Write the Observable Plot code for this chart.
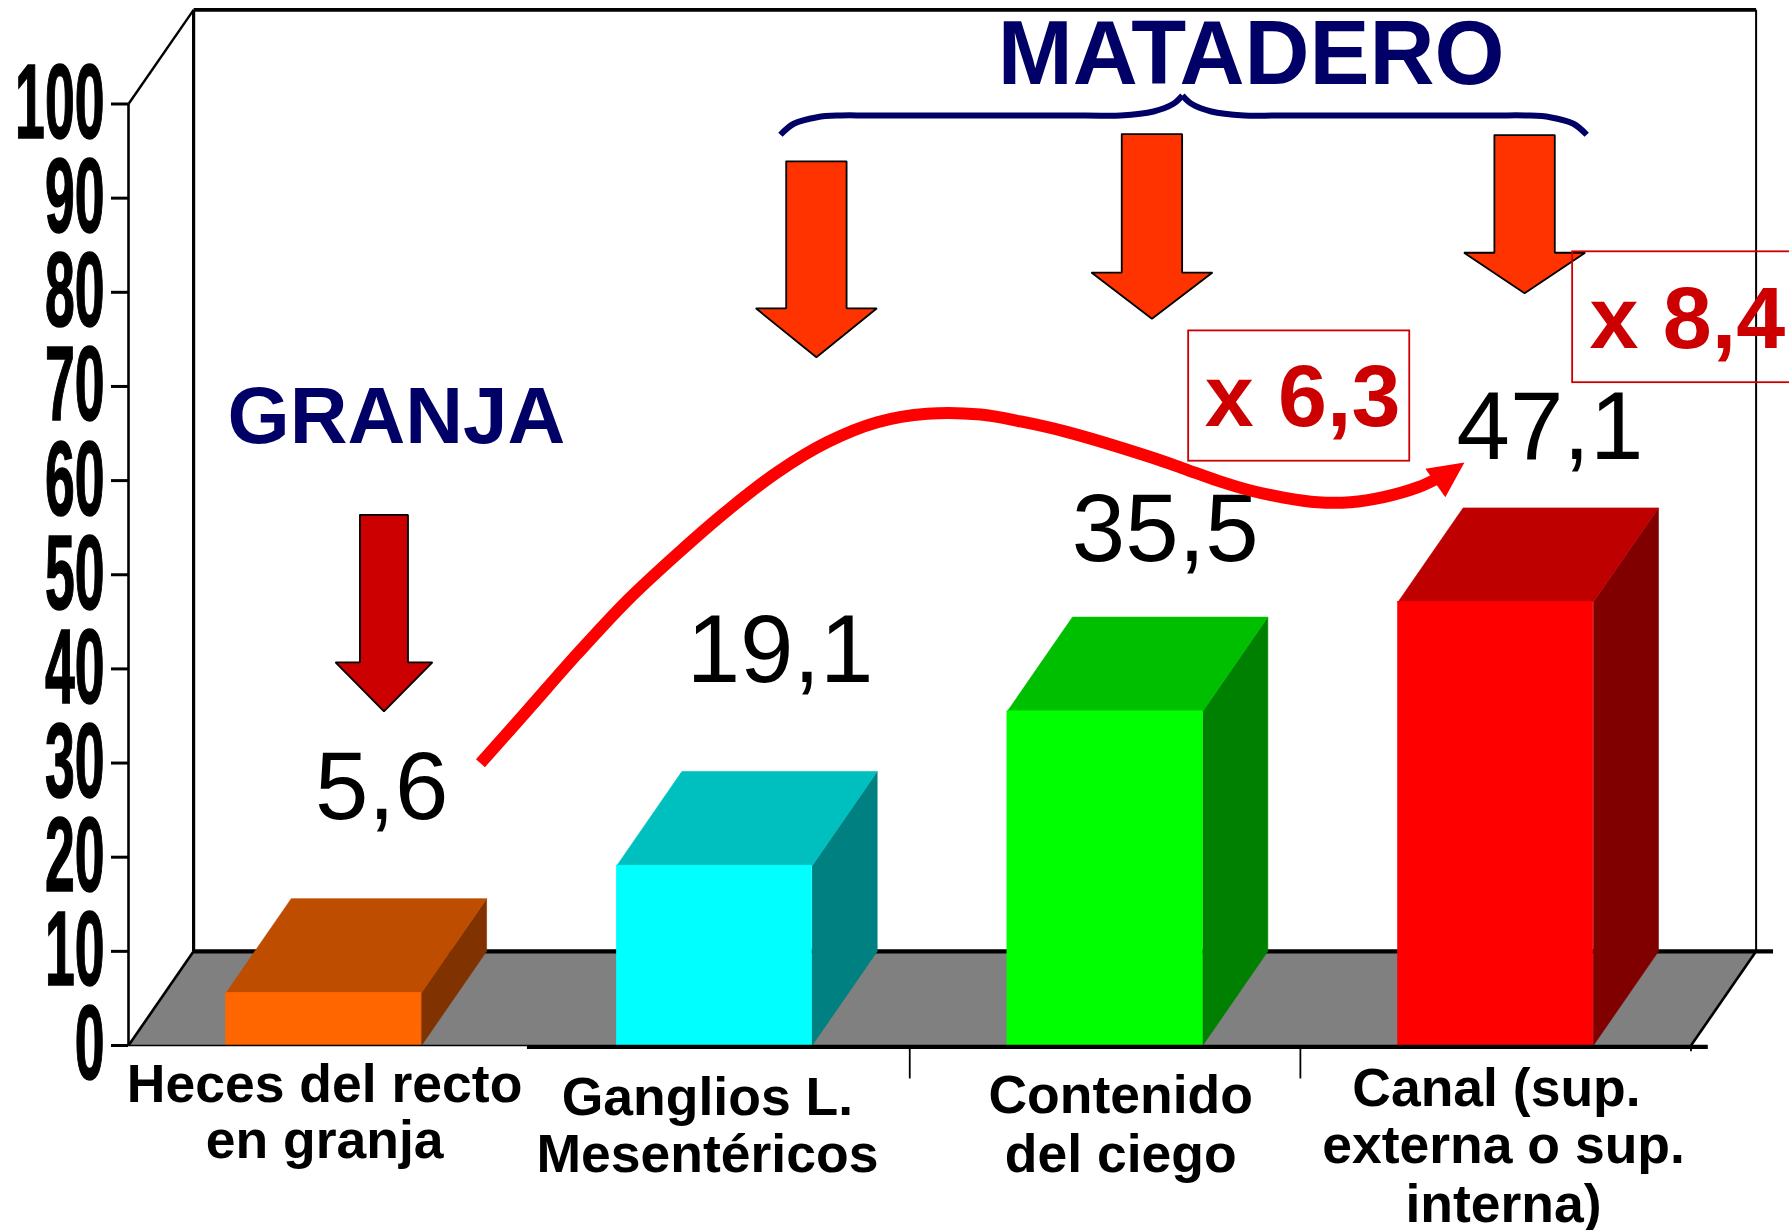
<!DOCTYPE html>
<html lang="es">
<head>
<meta charset="utf-8">
<title>Granja y matadero</title>
<style>
html,body{margin:0;padding:0;background:#fff}
svg{display:block}
</style>
<script src="https://cdn.jsdelivr.net/npm/d3@7"></script>
<script src="https://cdn.jsdelivr.net/npm/@observablehq/plot@0.6"></script>
</head>
<body>
<div id="chart"></div>
<script>
// --- data ---
const categories = [
  ["Heces del recto", "en granja"],
  ["Ganglios L.", "Mesentéricos"],
  ["Contenido", "del ciego"],
  ["Canal (sup.", "externa o sup.", "interna)"]
];
const values = [5.6, 19.1, 35.5, 47.1];
const frontColors = ["#FF6600", "#00FFFF", "#00FF00", "#FF0000"];
const topColors = ["#BF4D00", "#00BFBF", "#00BF00", "#BF0000"];
const sideColors = ["#803300", "#008080", "#008000", "#800000"];
const yTicks = [0, 10, 20, 30, 40, 50, 60, 70, 80, 90, 100];
const multipliers = ["x 6,3", "x 8,4"];

// --- oblique projection of the box, in data units ---
const depthX = 1 / 6, depthY = 10;
const wallTop = 110, xEnd = 4;
const font = "'Liberation Sans', Arial, sans-serif";
const NAVY = "#000066", DARKRED = "#CC0000", ORANGE = "#FF3300";

const poly = (pts, o = {}) => Plot.line(pts, {x: d => d[0], y: d => d[1], stroke: "none", ...o});
const seg = (pts, strokeWidth, o = {}) => poly(pts, {stroke: "#000", strokeWidth, strokeLinecap: "butt", ...o});

const bars = values.map((v, i) => ({v, i, x1: i + 0.25, x2: i + 0.75}));

const barMarks = bars.flatMap(b => [
  poly([[b.x2, 0], [b.x2 + depthX, depthY], [b.x2 + depthX, b.v + depthY], [b.x2, b.v], [b.x2, 0]],
    {fill: sideColors[b.i], stroke: sideColors[b.i], strokeWidth: 0.6}),
  poly([[b.x1, b.v], [b.x1 + depthX, b.v + depthY], [b.x2 + depthX, b.v + depthY], [b.x2, b.v], [b.x1, b.v]],
    {fill: topColors[b.i], stroke: topColors[b.i], strokeWidth: 0.6})
]);

const downArrow = (cx, top, head, tip, half, headHalf, fill) => poly([
  [cx - half, top], [cx + half, top], [cx + half, head], [cx + headHalf, head], [cx, tip],
  [cx - headHalf, head], [cx - half, head], [cx - half, top]
], {fill, stroke: "#000", strokeWidth: 1.8, strokeLinejoin: "miter"});

const labelCenters = [[0.502, 0.502], [1.482, 1.482], [2.54, 2.54], [3.502, 3.52, 3.52]];
const labelBaselines = [[-5.95, -12.0], [-7.33, -13.4], [-7.2, -13.4], [-6.45, -12.5, -18.7]];
const categoryLines = categories.flatMap((lines, i) =>
  lines.map((t, j) => ({t, x: labelCenters[i][j], y: labelBaselines[i][j]})));

const valuePlacement = [[0.648, 24.08], [1.668, 38.58], [2.654, 51.44], [3.639, 62.32]];

const chart = Plot.plot({
  width: 1789, height: 1230,
  marginLeft: 128, marginRight: 98.5, marginTop: 103.5, marginBottom: 185,
  style: {fontFamily: font, background: "#fff", overflow: "hidden"},
  x: {domain: [0, 4], axis: null},
  y: {domain: [0, 100]},
  marks: [
    // floor
    poly([[0, 0], [depthX, depthY], [xEnd + depthX, depthY], [xEnd, 0], [0, 0]], {fill: "#808080"}),
    // walls
    seg([[depthX, depthY], [depthX, wallTop]], 3.2),
    seg([[depthX, wallTop], [xEnd + depthX, wallTop]], 3.6),
    seg([[xEnd + depthX, wallTop], [xEnd + depthX, depthY]], 2),
    seg([[0, 100], [depthX, wallTop]], 2.4),
    seg([[0, 0], [0, 100]], 2.6),
    seg([[0, 0], [depthX, depthY]], 2.6),
    seg([[xEnd, 0], [xEnd + depthX, depthY]], 2.6),
    seg([[depthX, depthY], [4.21, depthY]], 4.4),
    // y axis
    Plot.axisY(yTicks, {
      anchor: "left", label: null, tickSize: 17, tickPadding: 7, strokeWidth: 3,
      fontSize: 80, fontWeight: "bold", fill: "#000"
    }),
    // bars
    ...barMarks,
    Plot.rect(bars, {x1: "x1", x2: "x2", y1: 0, y2: "v", fill: d => frontColors[d.i], stroke: d => frontColors[d.i], strokeWidth: 0.6}),
    // base line and category ticks
    seg([[-0.044, 0], [1.02, 0]], 1.5),
    seg([[1.02, -0.15], [4.043, -0.15]], 4.4),
    ...[2, 3].map(x => seg([[x, -0.3], [x, -3.5]], 1.8)),
    seg([[4, -0.3], [4, -0.6]], 1.8),
    // category labels
    Plot.text(categoryLines, {
      x: "x", y: "y", text: "t", fontSize: 53.5, fontWeight: "bold", fill: "#000",
      lineAnchor: "bottom", textAnchor: "middle"
    }),
    // value labels
    Plot.text(values, {
      x: (d, i) => valuePlacement[i][0], y: (d, i) => valuePlacement[i][1],
      text: d => String(d).replace(".", ","), fontSize: 96, fill: "#000",
      lineAnchor: "bottom", textAnchor: "middle"
    }),
    // headings
    Plot.text(["GRANJA"], {x: [0.686], y: [63.95], text: d => d, fontSize: 80, fontWeight: "bold", fill: NAVY, lineAnchor: "bottom"}),
    Plot.text(["MATADERO"], {x: [2.874], y: [102.1], text: d => d, fontSize: 90, fontWeight: "bold", fill: NAVY, lineAnchor: "bottom"}),
    // brace
    seg([[1.669, 96.73], [1.703, 97.9], [1.763, 98.6], [1.823, 98.78], [1.9, 98.78], [2.45, 98.78], [2.54, 98.78], [2.624, 99.2], [2.675, 100.02], [2.698, 100.9]],
      6, {stroke: NAVY, curve: "catmull-rom"}),
    seg([[2.698, 100.9], [2.721, 100.02], [2.772, 99.2], [2.856, 98.78], [2.95, 98.78], [3.49, 98.78], [3.579, 98.78], [3.639, 98.6], [3.699, 97.9], [3.733, 96.73]],
      6, {stroke: NAVY, curve: "catmull-rom"}),
    // down arrows
    downArrow(0.654, 56.35, 40.7, 35.5, 0.0615, 0.124, DARKRED),
    downArrow(1.761, 93.9, 78.3, 73.1, 0.0773, 0.155, ORANGE),
    downArrow(2.62, 96.8, 82.1, 77.2, 0.0773, 0.155, ORANGE),
    downArrow(3.574, 96.7, 84.2, 79.9, 0.0773, 0.155, ORANGE),
    // curved red arrow
    seg([[0.901, 29.98], [1.021, 35.58], [1.149, 41.6], [1.277, 47.27], [1.405, 52.22], [1.533, 56.82], [1.661, 60.89],
         [1.789, 64.08], [1.917, 66.2], [2.045, 67.1], [2.181, 67.02], [2.284, 66.28], [2.399, 65.2], [2.616, 62.5],
         [2.701, 61.28], [2.788, 60.0], [2.872, 58.95], [2.957, 58.2], [3.044, 57.7], [3.128, 57.7], [3.213, 58.24],
         [3.3, 59.27], [3.349, 60.2]], 12, {stroke: "#FF0000", curve: "catmull-rom"}),
    poly([[3.42, 61.92], [3.32, 61.25], [3.371, 58.24], [3.42, 61.92]], {fill: "#FF0000"}),
    // multiplier boxes
    Plot.rect([0, 1], {
      x1: [2.714, 3.697], x2: [3.28, 4.28], y1: [62.06, 70.4], y2: [75.9, 84.3],
      fill: "none", stroke: DARKRED, strokeWidth: 1.8
    }),
    Plot.text(multipliers, {
      x: [2.755, 3.74], y: [65.75, 74.07], text: d => d, fontSize: 88, fontWeight: "bold", fill: DARKRED,
      lineAnchor: "bottom", textAnchor: "start"
    })
  ]
});

// the y tick numerals of the reference are tall and condensed
chart.querySelectorAll('[aria-label="y-axis tick label"] text').forEach(t => {
  t.setAttribute("transform", (t.getAttribute("transform") || "") + " scale(0.67,1.325)");
  t.setAttribute("stroke", "#000");
  t.setAttribute("stroke-width", "1.2");
});
document.getElementById("chart").appendChild(chart);
</script>
</body>
</html>
